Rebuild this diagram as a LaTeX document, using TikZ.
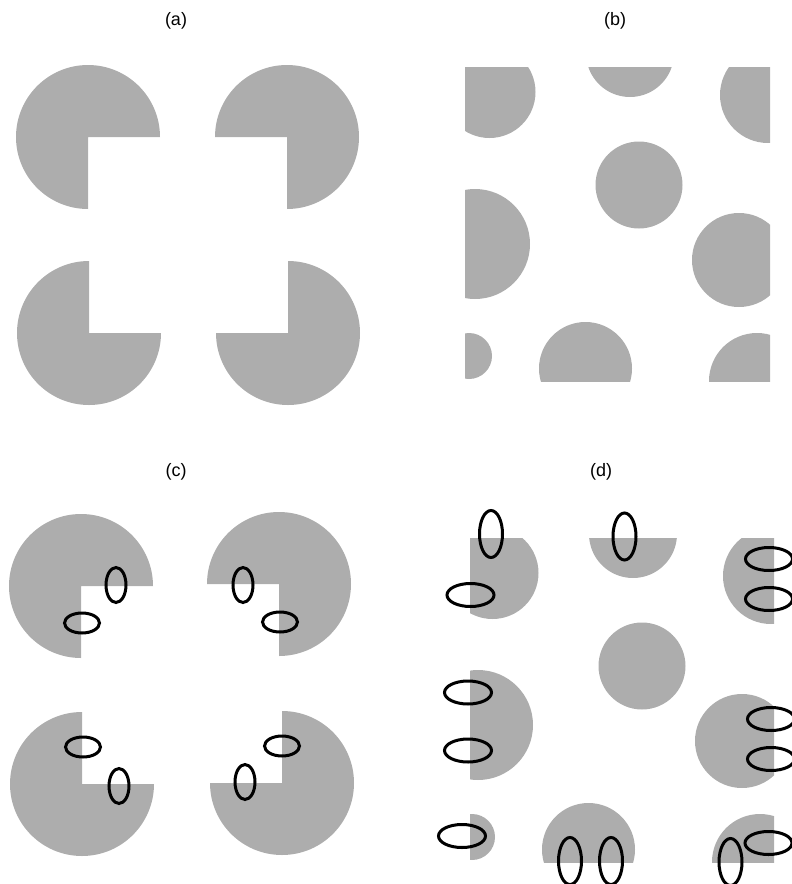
\documentclass[tikz,border=0pt]{standalone}
\usepackage{fontspec}
\setmainfont{Liberation Sans}
\usepackage{xcolor}
\definecolor{blobgrey}{RGB}{173,173,173}

\begin{document}
\begin{tikzpicture}[
    x=1pt, y=-1pt,
    blob/.style={fill=blobgrey},
    ring/.style={draw=black, line width=3pt},
    lbl/.style={inner sep=0pt, font=\fontsize{18}{20}\selectfont}
]
    \useasboundingbox (0,0) rectangle (792,884);

    % panel labels
    \node[lbl] (lbla) at (176,21) {(a)};
    \node[lbl] (lblb) at (615,21) {(b)};
    \node[lbl] (lblc) at (176,472) {(c)};
    \node[lbl] (lbld) at (601,472) {(d)};

    % (a) four inducers
    \foreach \cx/\cy/\a in {88/137/0, 287/137/90, 89/333/270, 288/333/180}
        \fill[blob] (\cx,\cy) -- ++({\a+90}:72) arc[start angle={\a+90}, delta angle=270, radius=72] -- cycle;

    % (b) scattered discs, cut by the frame
    \begin{scope}
        \clip (465,67) rectangle (770,381);
        \foreach \cx/\cy/\r in {489.5/92/46, 630/53/44, 768/95/48, 639/185/43.5, 475/244/55,
                                739/260/47, 469/356/23, 585.5/368.5/46.5, 757/381/48}
            \fill[blob] (\cx,\cy) circle[radius=\r];
    \end{scope}

    % (c) inducers with receptive fields
    \foreach \cx/\cy/\a in {81/586/0, 279/584/90, 82/784/270, 282/783/180}
        \fill[blob] (\cx,\cy) -- ++({\a+90}:72) arc[start angle={\a+90}, delta angle=270, radius=72] -- cycle;
    \foreach \ex/\ey in {116/585, 243/585, 119/786, 245/782}
        \draw[ring] (\ex,\ey) ellipse[x radius=10, y radius=17.5];
    \foreach \ex/\ey in {82/623, 280/622, 83/747, 282/746}
        \draw[ring] (\ex,\ey) ellipse[x radius=17.5, y radius=10];

    % (d) same discs with receptive fields
    \begin{scope}
        \clip (470,538) rectangle (774,862);
        \foreach \cx/\cy/\r in {489.5/92/46, 630/53/44, 768/95/48, 639/185/43.5, 475/244/55,
                                739/260/47, 469/356/23, 585.5/368.5/46.5, 757/381/48}
            \fill[blob] ([shift={(3,481)}]\cx,\cy) circle[radius=\r];
    \end{scope}
    \foreach \ex/\ey in {491/534, 624.5/536.5, 570/861, 611/861, 730.5/862}
        \draw[ring] (\ex,\ey) ellipse[x radius=11.5, y radius=23.5];
    \foreach \ex/\ey in {470.5/595, 769/559, 769/599, 468/692.5, 468/750.5,
                         771/719, 771/759, 462/836, 768.5/843}
        \draw[ring] (\ex,\ey) ellipse[x radius=23.5, y radius=11.5];
\end{tikzpicture}
\end{document}
